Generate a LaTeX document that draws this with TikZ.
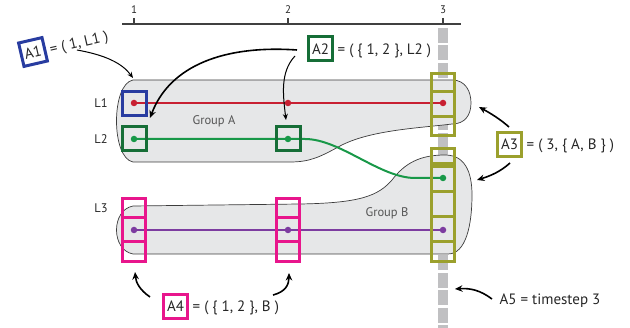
\documentclass[tikz,border=0pt]{standalone}
\usepackage{fontspec}
\setmainfont{PT Sans}
\usetikzlibrary{arrows.meta}

\definecolor{linered}{RGB}{200,32,50}
\definecolor{linegreen}{RGB}{24,152,72}
\definecolor{boxgreen}{RGB}{22,110,55}
\definecolor{boxblue}{RGB}{40,60,160}
\definecolor{boxpink}{RGB}{232,22,140}
\definecolor{boxolive}{RGB}{155,160,45}
\definecolor{linepurple}{RGB}{125,60,160}
\definecolor{groupfill}{RGB}{230,231,232}
\definecolor{groupline}{RGB}{60,60,60}
\definecolor{bandgray}{RGB}{192,192,194}
\definecolor{textgray}{RGB}{85,85,85}

\begin{document}
\begin{tikzpicture}[x=1pt,y=-1pt,
  lbl/.style={font=\fontsize{15}{18}\selectfont, text=black!85},
  tagbox/.style={draw, line width=3pt, minimum width=24pt, minimum height=24pt, inner sep=0pt, lbl},
  eqtext/.style={lbl, inner sep=0pt, anchor=base west, xshift=3.5pt},
  cell/.style={draw, line width=3pt, minimum width=24pt, minimum height=24pt, inner sep=0pt},
  multicell/.style={draw=#1, line width=3pt},
  dot/.style={circle, fill=#1, minimum size=6.5pt, inner sep=0pt},
  track/.style={line width=2pt},
  group/.style={fill=groupfill, draw=groupline, line width=0.7pt},
  lane/.style={font=\fontsize{12.5}{14}\selectfont, text=black!85},
  grouplbl/.style={font=\fontsize{12.5}{14}\selectfont, text=textgray},
  arr/.style={-{Stealth[length=6pt,width=5pt]}, line width=1pt, black},
  heavyarr/.style={-{Stealth[length=7.5pt,width=6.5pt]}, line width=1.6pt, black},
  axis/.style={line width=1.5pt, black!75}
]
\useasboundingbox (0,0) rectangle (630,328);

% timestep axis
\draw[axis] (122,24) -- (461,24);
\foreach \x/\t in {134/1, 288/2, 443/3} {
  \draw[axis] (\x,18) -- (\x,24);
  \node[font=\fontsize{11}{12}\selectfont, text=black!85] at (\x,10) {\t};
}

% timestep 3 highlighted as a dashed band
\draw[bandgray, line width=10pt, dash pattern=on 15pt off 2.5pt] (443,28) -- (443,328);

% group A
\draw[group] (133,80) -- (452,80)
  .. controls (466,80) and (471,92) .. (471,103)
  .. controls (471,115) and (465,124) .. (452,124)
  .. controls (420,128) and (370,130) .. (340,146)
  .. controls (320,157) and (310,162) .. (290,162)
  -- (133,162)
  .. controls (111,158) and (111,84) .. (133,80) -- cycle;

% group B
\draw[group] (133,206) -- (300,204)
  .. controls (360,203) and (378,196) .. (392,180)
  .. controls (405,163) and (420,155) .. (445,155)
  .. controls (465,155) and (472,172) .. (472,195)
  .. controls (472,225) and (466,254) .. (448,254)
  -- (133,254)
  .. controls (111,250) and (111,210) .. (133,206) -- cycle;

\node[grouplbl] (ga) at (214,121) {Group A};
\node[grouplbl] (gb) at (387,213) {Group B};

% lanes
\node[lane] (l1) at (101,103) {L1};
\node[lane] (l2) at (101,139) {L2};
\node[lane] (l3) at (101,208) {L3};

% L1
\node[dot=linered] (r1) at (134,103) {};
\node[dot=linered] (r2) at (288,103) {};
\node[dot=linered] (r3) at (443,103) {};
\draw[track, linered] (r1.center) -- (r3.center);

% L2
\node[dot=linegreen] (g1) at (134,139) {};
\node[dot=linegreen] (g2) at (288,139) {};
\node[dot=linegreen] (g3) at (443,178) {};
\draw[track, linegreen] (g1.center) -- (g2.center) -- (305,139)
  .. controls (340,139) and (380,178) .. (415,178) -- (g3.center);

% L3
\node[dot=linepurple] (p1) at (134,230) {};
\node[dot=linepurple] (p2) at (288,230) {};
\node[dot=linepurple] (p3) at (443,230) {};
\draw[track, linepurple] (p1.center) -- (p3.center);

% A1 and A2 cells
\node[cell, draw=boxblue] (c11) at (134.5,103.5) {};
\node[cell, draw=boxgreen] (c21) at (134.5,138.5) {};
\node[cell, draw=boxgreen] (c22) at (288,138.5) {};

% A4 cells
\foreach \x in {134, 288} {
  \draw[multicell=boxpink] (\x-11.5,198.5) rectangle (\x+11.5,261.5);
  \draw[multicell=boxpink] (\x-11.5,218) -- (\x+11.5,218);
  \draw[multicell=boxpink] (\x-11.5,242) -- (\x+11.5,242);
}

% A3 cells at timestep 3
\draw[multicell=boxolive] (431.5,73.5) rectangle (454.5,135.5);
\foreach \y in {92, 117}
  \draw[multicell=boxolive] (431.5,\y) -- (454.5,\y);
\draw[multicell=boxolive] (431.5,148.5) rectangle (454.5,262);
\foreach \y in {164, 167, 192, 217, 242}
  \draw[multicell=boxolive] (431.5,\y) -- (454.5,\y);

% labels
\node[tagbox, draw=boxblue, rotate=13] (a1) at (33,52) {A1};
\node[eqtext, rotate=13] (a1t) at (a1.base east) {= ( 1, L1 )};

\node[tagbox, draw=boxgreen] (a2) at (320.5,49) {A2};
\node[eqtext] (a2t) at (a2.base east) {= ( \{ 1, 2 \}, L2 )};

\node[tagbox, draw=boxolive] (a3) at (509.5,144.5) {A3};
\node[eqtext] (a3t) at (a3.base east) {= ( 3, \{ A, B \} )};

\node[tagbox, draw=boxpink] (a4) at (175.5,306.5) {A4};
\node[eqtext] (a4t) at (a4.base east) {= ( \{ 1, 2 \}, B )};

\node[lbl, inner sep=0pt] (a5) at (550,301) {A5 = timestep 3};

% pointers
\coordinate (a1s) at (77,50);   \coordinate (a1e) at (133,78);
\coordinate (a2s) at (297,50);  \coordinate (a2e) at (150,118);
\coordinate (a2u) at (295,56);  \coordinate (a2f) at (286,120);
\coordinate (a3s) at (509,127); \coordinate (a3e) at (479,107);
\coordinate (a3u) at (510,163); \coordinate (a3f) at (477,180);
\coordinate (a4s) at (150,297); \coordinate (a4e) at (135,272);
\coordinate (a4u) at (273,295); \coordinate (a4f) at (289,273);
\coordinate (a5s) at (492,299); \coordinate (a5e) at (455,289);

\draw[arr] (a1s) .. controls (105,55) and (122,63) .. (a1e);
\draw[heavyarr] (a2s) .. controls (225,45) and (170,65) .. (a2e);
\draw[arr] (a2u) .. controls (280,72) and (283,95) .. (a2f);
\draw[heavyarr] (a3s) .. controls (500,119) and (490,113) .. (a3e);
\draw[heavyarr] (a3u) .. controls (500,172) and (490,176) .. (a3f);
\draw[heavyarr] (a4s) .. controls (140,290) and (136,283) .. (a4e);
\draw[heavyarr] (a4u) .. controls (285,292) and (289,285) .. (a4f);
\draw[heavyarr] (a5s) .. controls (480,290) and (470,288) .. (a5e);
\end{tikzpicture}
\end{document}
